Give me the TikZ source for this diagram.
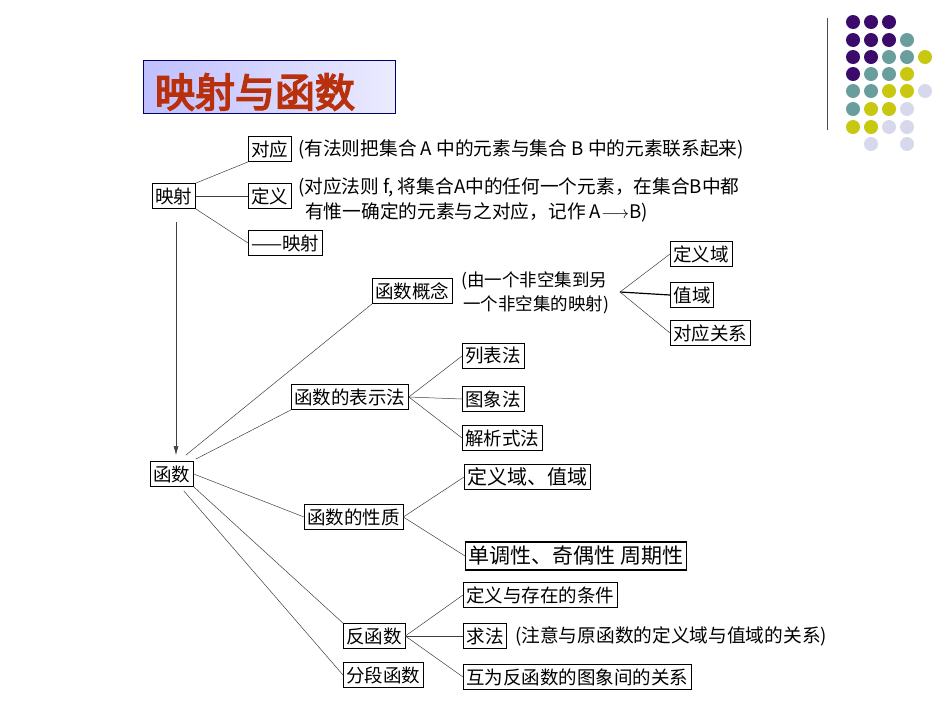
\documentclass[tikz,border=0pt]{standalone}
\usepackage{fontspec}
\usetikzlibrary{arrows.meta}
\setmainfont{Noto Sans CJK SC}
\newfontfamily\cjkb[FakeBold=4]{Noto Sans CJK SC}
\begin{document}
\begin{tikzpicture}[x=1pt,y=-1pt,
  bx/.style={draw,anchor=west,line width=0.8pt,inner xsep=3pt,inner ysep=1pt,minimum height=25pt,font=\fontsize{18.5}{20}\selectfont},
  tx/.style={anchor=west,inner sep=0pt,font=\fontsize{17.5}{19}\selectfont},
  txl/.style={tx,font=\fontsize{18.7}{20}\selectfont},
  ln/.style={draw=black!75,line width=0.5pt}]
\useasboundingbox (0,0) rectangle (950,713);
\fill[white] (0,0) rectangle (950,713);
% title banner
\shade[left color=blue!25!white,right color=blue!8!white] (143,60) rectangle (395,113);
\draw[blue!40!black,line width=0.8pt] (143,60) rectangle (395,113);
\node (title) at (255,92) {\cjkb\fontsize{40}{42}\selectfont\color[HTML]{B8300C}映射与函数};
% dots
\definecolor{P}{HTML}{3C0A6A}\definecolor{T}{HTML}{6A9E9E}\definecolor{Y}{HTML}{C8C810}\definecolor{L}{HTML}{D8D8EC}
\draw[black!70,line width=1pt] (827,18) -- (827,130);
\foreach \r/\row in {22/{P,P,P},40/{P,P,P,T},57/{P,P,T,T,Y},74/{P,T,T,Y},91/{T,T,Y,Y,L},109/{T,Y,Y,L},127/{Y,Y,L,L}}{
  \foreach \c [count=\i from 0] in \row {\fill[\c] (853+18*\i,\r) circle (7);}}
\fill[L] (871,144) circle (7); \fill[L] (907,144) circle (7);
% nodes
\node[bx] (ys) at (152,196) {映射};
\node[bx] (dy) at (248,149) {对应};
\node[bx] (dyi) at (248,196) {定义};
\node[bx] (ysm) at (248,243) {——映射};
\node[txl] (t1) at (298,149) {(有法则把集合 A 中的元素与集合 B 中的元素联系起来)};
\node[txl] (t2) at (298,187) {(对应法则 f, 将集合A中的任何一个元素，在集合B中都};
\node[txl] (t3) at (305,212) {有惟一确定的元素与之对应，记作 A$\longrightarrow$B)};
\node[bx] (hs) at (150,474) {函数};
\node[bx] (gn) at (372,291) {函数概念};
\node[tx] (t4) at (461,281) {(由一个非空集到另};
\node[tx] (t5) at (463,305) {一个非空集的映射)};
\coordinate (gnr) at (620,292);
\node[bx] (dyy) at (670,254) {定义域};
\node[bx,line width=1.2pt] (zy) at (670,295) {值域};
\node[bx] (dygx) at (670,333) {对应关系};
\node[bx] (bsf) at (291,397) {函数的表示法};
\node[bx] (lbf) at (462,356) {列表法};
\node[bx] (txf) at (462,399) {图象法};
\node[bx] (jxf) at (462,438) {解析式法};
\node[bx] (xz) at (304,517) {函数的性质};
\node[bx,font=\fontsize{20}{22}\selectfont] (dz) at (464,477) {定义域、值域};
\node[bx,line width=1.2pt,font=\fontsize{21}{23}\selectfont,minimum height=28pt] (dq) at (465,556) {单调性、奇偶性 周期性};
\node[bx] (fhs) at (343,636) {反函数};
\node[bx] (fd) at (343,675) {分段函数};
\node[bx] (cz) at (463,595) {定义与存在的条件};
\node[bx,line width=1.1pt] (qf) at (463,636) {求法};
\node[txl] (t6) at (515,636) {(注意与原函数的定义域与值域的关系)};
\node[bx] (hw) at (463,677) {互为反函数的图象间的关系};
% connectors
\draw[ln] (ys.north east) -- (dy.south west);
\draw[ln] (ys) -- (dyi);
\draw[ln] (ys.south east) -- (ysm.west);
\draw[ln,-{Latex[length=9pt,width=5pt]}] (176,222) -- (176,455);
\draw[ln] (hs.north east) ++(-8,-6) -- (gn.south west);
\draw[ln] (hs.north east) ++(2,-2) -- (bsf.south west);
\draw[ln] (hs.east) -- (xz.west);
\draw[ln] (hs.south east) -- (fhs.north west);
\draw[ln] (hs.south east) ++(-10,4) -- (fd.west);
\draw[ln] (gnr) -- (dyy.west);
\draw[line width=1.2pt] (gnr) -- (zy.west);
\draw[ln] (gnr) -- (dygx.west);
\draw[ln] (bsf.east) -- (lbf.west);
\draw[ln] (bsf.east) -- (txf.west);
\draw[ln] (bsf.east) -- (jxf.west);
\draw[ln] (xz.east) -- (dz.west);
\draw[ln] (xz.east) -- (dq.west);
\draw[ln] (fhs.east) -- (cz.west);
\draw[ln] (fhs.east) -- (qf.west);
\draw[ln] (fhs.east) -- (hw.west);
\end{tikzpicture}
\end{document}
